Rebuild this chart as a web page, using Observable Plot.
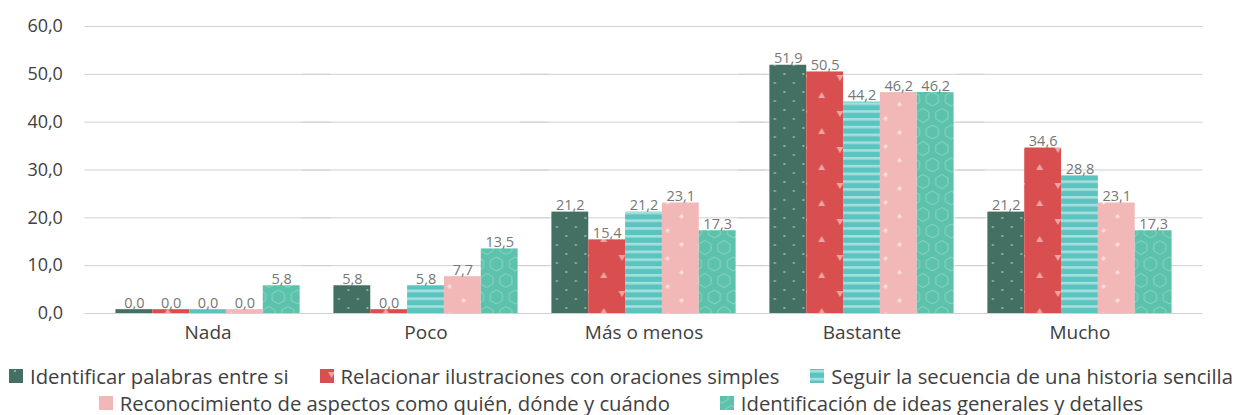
<!DOCTYPE html>
<html>
<head>
<meta charset="utf-8">
<script src="https://cdn.jsdelivr.net/npm/d3@7"></script>
<script src="https://cdn.jsdelivr.net/npm/@observablehq/plot@0.6"></script>
<style>
  body { margin: 0; background: #fff; font-family: "Open Sans", Lato, sans-serif; }
  #chart svg { display: block; }
  #legend { width: 1242px; font-size: 20.3px; color: #404040; margin-top: 12px; }
  .row { display: flex; justify-content: center; align-items: center; height: 27px; gap: 31px; }
  .row.r2 { gap: 50px; }
  .item { display: flex; align-items: center; gap: 7px; white-space: nowrap; }
  .item svg { display: block; }
</style>
</head>
<body>
<svg width="0" height="0" style="position:absolute">
  <defs>
    <pattern id="p1" patternUnits="userSpaceOnUse" width="19" height="18" x="115" y="0">
      <rect width="19" height="18" fill="#446f63"/>
      <circle cx="5" cy="2" r="1.1" fill="#a3bab2"/>
      <circle cx="14.5" cy="11" r="1.1" fill="#a3bab2"/>
    </pattern>
    <pattern id="p2" patternUnits="userSpaceOnUse" width="36.27" height="36" x="151.8" y="0">
      <rect width="36.27" height="36" fill="#d94f4f"/>
      <polygon points="1.3,3 8.3,3 4.8,9" fill="#f0a3a3"/>
      <polygon points="19.3,26 26.3,26 22.8,20" fill="#f0a3a3"/>
    </pattern>
    <pattern id="p3" patternUnits="userSpaceOnUse" width="10" height="7.8" x="0" y="1">
      <rect width="10" height="7.8" fill="#5bc4c1"/>
      <rect width="10" height="2.6" fill="#a6dfdc"/>
    </pattern>
    <pattern id="p4" patternUnits="userSpaceOnUse" width="36.27" height="28" x="225.4" y="0">
      <rect width="36.27" height="28" fill="#f2b8b8"/>
      <polygon points="13,4 15.5,6.5 13,9 10.5,6.5" fill="#f9dcdc"/>
      <polygon points="27,18 29.5,20.5 27,23 24.5,20.5" fill="#f9dcdc"/>
    </pattern>
    <pattern id="p5" patternUnits="userSpaceOnUse" width="19" height="33" x="268" y="0">
      <rect width="19" height="33" fill="#5cc2ab"/>
      <g fill="none" stroke="#8cd5c4" stroke-width="1">
        <polygon points="0,-7 6.06,-3.5 6.06,3.5 0,7 -6.06,3.5 -6.06,-3.5"/>
        <polygon points="19,-7 25.06,-3.5 25.06,3.5 19,7 12.94,3.5 12.94,-3.5"/>
        <polygon points="0,26 6.06,29.5 6.06,36.5 0,40 -6.06,36.5 -6.06,29.5"/>
        <polygon points="19,26 25.06,29.5 25.06,36.5 19,40 12.94,36.5 12.94,29.5"/>
        <polygon points="9.5,9.5 15.56,13 15.56,20 9.5,23.5 3.44,20 3.44,13"/>
      </g>
    </pattern>
  </defs>
</svg>
<div id="chart"></div>
<div id="legend"></div>
<script>
const categories = ["Nada", "Poco", "Más o menos", "Bastante", "Mucho"];
const seriesNames = [
  "Identificar palabras entre si",
  "Relacionar ilustraciones con oraciones simples",
  "Seguir la secuencia de una historia sencilla",
  "Reconocimiento de aspectos como quién, dónde y cuándo",
  "Identificación de ideas generales y detalles"
];
const identificarPalabras   = [0.0, 5.8, 21.2, 51.9, 21.2];
const relacionarIlustr      = [0.0, 0.0, 15.4, 50.5, 34.6];
const seguirSecuencia       = [0.0, 5.8, 21.2, 44.2, 28.8];
const reconocimientoAspect  = [0.0, 7.7, 23.1, 46.2, 23.1];
const identificacionIdeas   = [5.8, 13.5, 17.3, 46.2, 17.3];
const yTicks = [0, 10, 20, 30, 40, 50, 60];

const seriesValues = [identificarPalabras, relacionarIlustr, seguirSecuencia, reconocimientoAspect, identificacionIdeas];
const fills = ["url(#p1)", "url(#p2)", "url(#p3)", "url(#p4)", "url(#p5)"];
const minVisible = 0.8; // zero bars are drawn as a thin sliver, as in the reference

const data = [];
categories.forEach((c, i) => {
  seriesNames.forEach((s, j) => {
    data.push({category: c, series: s, value: seriesValues[j][i], fill: fills[j]});
  });
});

const fmt = v => v.toFixed(1).replace(".", ",");

const chart = Plot.plot({
  width: 1242,
  height: 350,
  marginLeft: 86,
  marginRight: 41,
  marginTop: 26,
  marginBottom: 37,
  style: {fontFamily: "'Open Sans', Lato, sans-serif", color: "#404040", background: "#fff"},
  fx: {domain: categories, paddingInner: 0.155, paddingOuter: 0.135, round: false, label: null},
  x: {domain: seriesNames, padding: 0, round: false, axis: null},
  y: {domain: [0, 60], label: null},
  color: {type: "identity"},
  marks: [
    Plot.ruleY(yTicks, {stroke: "#d0d0d0", strokeWidth: 1, insetLeft: -31, insetRight: -31}),
    Plot.barY(data, {fx: "category", x: "series", y: d => Math.max(d.value, minVisible), fill: "fill"}),
    Plot.text(data, {fx: "category", x: "series", y: d => Math.max(d.value, minVisible), text: d => fmt(d.value),
      lineAnchor: "bottom", dy: -2, fill: "#777", fontSize: 14.5}),
    Plot.axisY({ticks: yTicks, tickFormat: fmt, tickSize: 0, tickPadding: 53, fontSize: 18, label: null}),
    Plot.axisFx({anchor: "bottom", tickSize: 0, tickPadding: 12, fontSize: 19, label: null})
  ]
});
document.getElementById("chart").appendChild(chart);

const legend = document.getElementById("legend");
[[0, 3], [3, 5]].forEach(([a, b], r) => {
  const row = document.createElement("div");
  row.className = r === 0 ? "row" : "row r2";
  seriesNames.slice(a, b).forEach((name, k) => {
    const idx = a + k;
    const item = document.createElement("div");
    item.className = "item";
    item.innerHTML = `<svg width="14" height="14"><rect width="14" height="14" fill="${fills[idx]}"/></svg><span>${name}</span>`;
    row.appendChild(item);
  });
  legend.appendChild(row);
});
</script>
</body>
</html>
